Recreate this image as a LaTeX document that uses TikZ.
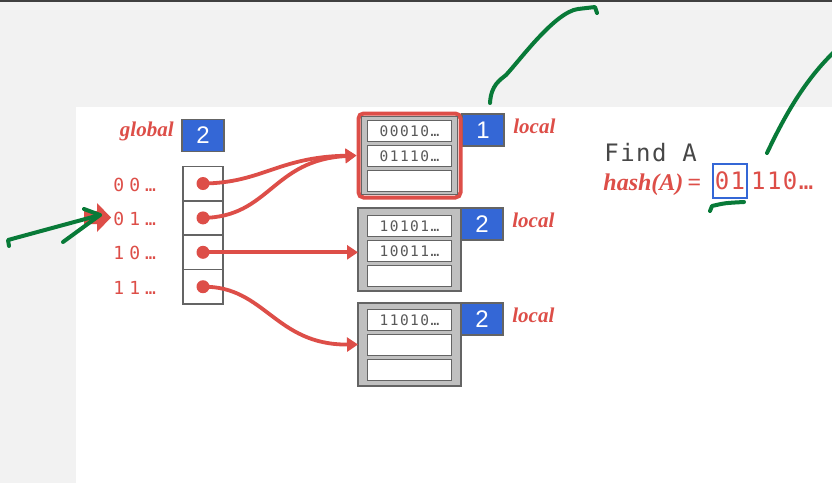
\documentclass[tikz,border=0pt]{standalone}
\usepackage{fontspec}
\setmainfont{Liberation Serif}
\newfontfamily\dirfont[LetterSpace=28]{DejaVu Sans Mono}
\newfontfamily\slotfont[LetterSpace=10]{DejaVu Sans Mono}
\newfontfamily\hashfont[LetterSpace=6]{DejaVu Sans Mono}
\newfontfamily\depthfont{Liberation Sans}
\usetikzlibrary{arrows.meta,positioning}
\definecolor{slidered}{RGB}{221,78,72}
\definecolor{depthblue}{RGB}{52,103,214}
\definecolor{bucketgray}{RGB}{192,192,192}
\definecolor{edgegray}{RGB}{100,100,100}
\definecolor{inkgreen}{RGB}{8,122,56}
\definecolor{pagegray}{RGB}{242,242,242}

\begin{document}
\begin{tikzpicture}[x=1pt, y=-1pt, thick, >=stealth]
  \tikzstyle{cell} = [rectangle, draw=edgegray, fill=white, line width=1.6pt, minimum width=40pt, minimum height=34.4pt, inner sep=0pt, outer sep=0pt]
  \tikzstyle{bucket} = [rectangle, draw=edgegray, fill=bucketgray, line width=1.5pt, minimum width=103pt, minimum height=83pt, inner sep=0pt, outer sep=0pt]
  \tikzstyle{selbox} = [rectangle, draw=slidered, line width=4pt, rounded corners=5pt, minimum width=102pt, minimum height=84pt, inner sep=0pt]
  \tikzstyle{slot} = [rectangle, draw=edgegray, fill=white, line width=1.2pt, minimum width=84pt, minimum height=21pt, inner sep=0pt, outer sep=0pt, text=black!65, font=\slotfont\fontsize{14.5}{14.5}\selectfont]
  \tikzstyle{depthbox} = [rectangle, draw=edgegray, fill=depthblue, line width=1.5pt, minimum width=42pt, minimum height=32pt, inner sep=0pt, outer sep=0pt, text=white, font=\depthfont\fontsize{24}{24}\selectfont]
  \tikzstyle{tagtext} = [text=slidered, font=\bfseries\itshape\fontsize{21}{21}\selectfont, inner sep=0pt]
  \tikzstyle{bitlabel} = [text=slidered, font=\dirfont\fontsize{18}{18}\selectfont, inner sep=0pt]
  \tikzstyle{line} = [draw=slidered, line width=3.8pt, -{Triangle[length=11pt,width=14pt]}]
  \tikzstyle{ink} = [draw=inkgreen, line width=4pt, line cap=round, line join=round]

  % slide background
  \fill [pagegray] (0,0) rectangle (832,483);
  \fill [white] (76,107) rectangle (832,483);
  \fill [black!75] (0,0) rectangle (832,2);
  \useasboundingbox (0,0) rectangle (832,483);

  % global depth and directory
  \node [depthbox] (gd) at (203,135.5) {2};
  \node [tagtext, left=8pt of gd, yshift=4pt] (gtag) {global};
  \foreach \i/\lbl in {0/00…, 1/01…, 2/10…, 3/11…} {
    \node [cell] (d\i) at (203,183.5+34.4*\i) {};
    \fill [slidered] (d\i.center) circle (6.5pt);
    \node [bitlabel, anchor=base west] (p\i) at (113,191+34.4*\i) {\lbl};
  }
  \fill [slidered] (84,211) -- (97,211) -- (97,203) -- (111,217.5) -- (97,232) -- (97,224) -- (84,224) -- cycle;

  % buckets
  \node [depthbox, anchor=north west] (l1) at (462,114) {1};
  \node [selbox] (sel) at (409.5,155.5) {};
  \node [bucket, minimum width=96pt, minimum height=78pt] (b1) at (409.5,155.5) {};
  \node [bucket] (b2) at (409.5,249.5) {};
  \node [bucket] (b3) at (409.5,344.5) {};
  \node [depthbox, anchor=north west] (l2) at (b2.north east) {2};
  \node [depthbox, anchor=north west] (l3) at (b3.north east) {2};
  \foreach \n in {1,2,3}
    \node [tagtext, right=9pt of l\n, yshift=3.5pt] (t\n) {local};

  \foreach \b/\y/\ta/\tb in {1/131/00010…/01110…, 2/226/10101…/10011…, 3/320/11010…/} {
    \node [slot] (s\b a) at (409.5,\y) {\ta};
    \node [slot, below=4pt of s\b a] (s\b b) {\tb};
    \node [slot, below=4pt of s\b b] (s\b c) {};
  }

  % pointers
  \path [line] (d0.center) .. controls (262,183) and (278,157) .. (sel.west);
  \path [line] (d1.center) .. controls (270,217) and (272,160) .. (sel.west);
  \path [line] (d2.center) -- (d2.center -| b2.west);
  \path [line] (d3.center) .. controls (265,286) and (275,345) .. (b3.west);

  % lookup
  \node [anchor=base west, inner sep=0pt, text=black!72, font=\hashfont\fontsize{24}{24}\selectfont] (find) at (604,161) {Find A};
  \node [tagtext, anchor=base west, font=\bfseries\itshape\fontsize{24}{24}\selectfont] (hash) at (603,190) {hash(A)\,=};
  \node [rectangle, draw=depthblue, line width=1.5pt, minimum width=34pt, minimum height=34pt, inner sep=0pt, text=slidered, font=\hashfont\fontsize{24}{24}\selectfont] (hb) at (730,181) {01};
  \node [anchor=base west, inner sep=0pt, text=slidered, font=\hashfont\fontsize{24}{24}\selectfont] (hrest) at ([xshift=3pt]hb.base east) {110…};

  % handwritten marks
  \draw [ink] (490,103) .. controls (491,85) and (500,80) .. (506,75) .. controls (520,60) and (555,12) .. (578,9) -- (595,7) -- (597,13);
  \draw [ink] (767,153) .. controls (785,115) and (805,80) .. (834,52);
  \draw [ink] (710,211) -- (712,206) .. controls (725,203) .. (744,202);
  \draw [ink] (9,246) -- (8,240) -- (100,215);
  \draw [ink] (63,242) -- (100,215) -- (84,209);
\end{tikzpicture}
\end{document}
